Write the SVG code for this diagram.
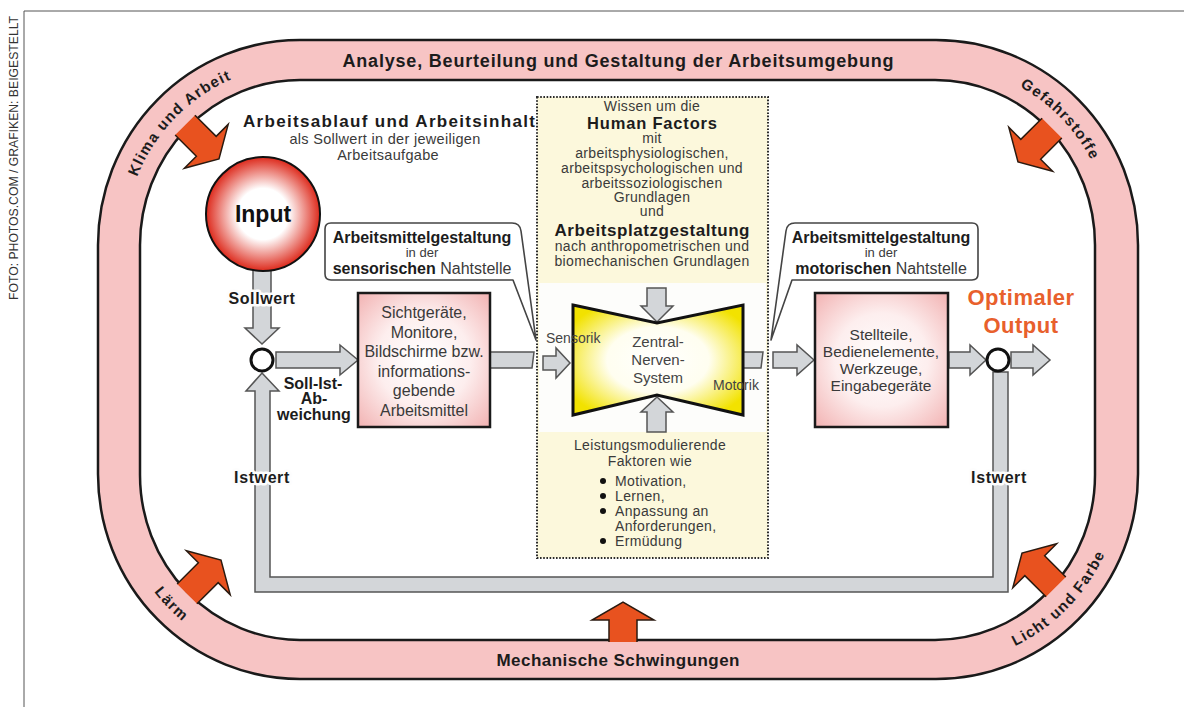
<svg xmlns="http://www.w3.org/2000/svg" xmlns:xlink="http://www.w3.org/1999/xlink" width="1184" height="707" viewBox="0 0 1184 707">
<style>
.r{font-family:"Liberation Sans",Arial,sans-serif;fill:#3a3a3a}
.b{font-family:"Liberation Sans",Arial,sans-serif;font-weight:bold;fill:#1c1c1c}
.c{text-anchor:middle}
.hf{font-size:14px;letter-spacing:0.35px}
.ga{fill:#d3d6d9;stroke:#555;stroke-width:1.5;stroke-linejoin:miter}
.ring{font-family:"Liberation Sans",Arial,sans-serif;font-weight:bold;font-size:15px;letter-spacing:1.3px;fill:#1c1c1c}
.halo{stroke:#fdfdfd;stroke-width:5;paint-order:stroke;stroke-linejoin:round}
.pbox{fill:url(#pk);stroke:#1a1a1a;stroke-width:2.5}
.call{fill:#fff;stroke:#444;stroke-width:1.6;stroke-linejoin:round}
.sum{fill:#fff;stroke:#111;stroke-width:3}
</style>
<defs>
<radialGradient id="pk" cx="0.5" cy="0.5" r="0.7">
<stop offset="0" stop-color="#ffffff"/><stop offset="0.5" stop-color="#fdeeee"/><stop offset="1" stop-color="#f2b3b3"/>
</radialGradient>
<radialGradient id="rd" cx="0.5" cy="0.5" r="0.5">
<stop offset="0" stop-color="#ffffff"/><stop offset="0.45" stop-color="#ffffff"/><stop offset="1" stop-color="#dd2a1c"/>
</radialGradient>
<radialGradient id="yl" cx="0.5" cy="0.5" r="0.6">
<stop offset="0" stop-color="#ffffff"/><stop offset="0.5" stop-color="#fffef0"/><stop offset="1" stop-color="#f2e200"/>
</radialGradient>
<g id="oa">
<path d="M-48,-14 L-18,-14 L-18,-31 L0,0 L-18,31 L-18,14 L-48,14 Z" fill="#e8521f"/>
<path d="M-48,-14 L-18,-14 L-18,-31 L0,0 L-18,31 L-18,14 L-48,14" fill="none" stroke="#2a1a10" stroke-width="1.5"/>
</g>
<g id="ob">
<path d="M-40,-14 L-18,-14 L-18,-31 L0,0 L-18,31 L-18,14 L-40,14 Z" fill="#e8521f"/>
<path d="M-40,-14 L-18,-14 L-18,-31 L0,0 L-18,31 L-18,14 L-40,14" fill="none" stroke="#2a1a10" stroke-width="1.5"/>
</g>
<path id="pTL" d="M124,245 A176,180 0 0 1 300,65"/>
<path id="pTR" d="M936,65 A176,180 0 0 1 1112,245"/>
<path id="pBL" d="M114,474 A186,190 0 0 0 300,664"/>
<path id="pBR" d="M936,664 A186,190 0 0 0 1122,474"/>
</defs>

<rect width="1184" height="707" fill="#ffffff"/>

<g id="frame">
<line x1="24" y1="11" x2="1184" y2="11" stroke="#555" stroke-width="1"/>
<line x1="24" y1="11" x2="24" y2="707" stroke="#555" stroke-width="1"/>
<text class="r" font-size="12.5" transform="translate(18,300) rotate(-90)" textLength="284" lengthAdjust="spacingAndGlyphs" style="fill:#333">FOTO: PHOTOS.COM / GRAFIKEN: BEIGESTELLT</text>
</g>

<g id="ring">
<path fill="#f7c4c4" fill-rule="evenodd" stroke="#1a1a1a" stroke-width="2.5" d="M300,40 H936 A202,205 0 0 1 1138,245 V474 A202,205 0 0 1 936,679 H300 A202,205 0 0 1 98,474 V245 A202,205 0 0 1 300,40 Z M300,80 H935 A160,165 0 0 1 1095,245 V475 A160,165 0 0 1 935,640 H300 A160,165 0 0 1 140,475 V245 A160,165 0 0 1 300,80 Z"/>
<text class="b c" x="618" y="67" font-size="18" textLength="551" lengthAdjust="spacing">Analyse, Beurteilung und Gestaltung der Arbeitsumgebung</text>
<text class="b c" x="618" y="666" font-size="17" textLength="243" lengthAdjust="spacing">Mechanische Schwingungen</text>
<text class="ring"><textPath href="#pTL" startOffset="50%" text-anchor="middle">Klima und Arbeit</textPath></text>
<text class="ring"><textPath href="#pTR" startOffset="50%" text-anchor="middle">Gefahrstoffe</textPath></text>
<text class="ring"><textPath href="#pBL" startOffset="50%" text-anchor="middle">Lärm</textPath></text>
<text class="ring"><textPath href="#pBR" startOffset="50%" text-anchor="middle">Licht und Farbe</textPath></text>
</g>

<g id="influences">
<use href="#oa" transform="translate(219,159) rotate(45)"/>
<use href="#oa" transform="translate(1018,162) rotate(135)"/>
<use href="#oa" transform="translate(221,560) rotate(-45)"/>
<use href="#oa" transform="translate(1022,553) rotate(-135)"/>
<use href="#ob" transform="translate(623,602) rotate(-90)"/>
</g>

<g id="human-factors">
<rect x="537" y="97" width="231" height="461" fill="#fcf8dc" stroke="#2a2a2a" stroke-width="2" stroke-dasharray="1.6 1.6"/>
<rect x="539" y="283" width="227" height="149" fill="#fdfdfb"/>
<text class="r c hf" x="652" y="111">Wissen um die</text>
<text class="b c" font-size="16.5" x="652" y="129" textLength="130" lengthAdjust="spacing">Human Factors</text>
<text class="r c hf" x="652" y="143">mit</text>
<text class="r c hf" x="652" y="158">arbeitsphysiologischen,</text>
<text class="r c hf" x="652" y="173">arbeitspsychologischen und</text>
<text class="r c hf" x="652" y="188">arbeitssoziologischen</text>
<text class="r c hf" x="652" y="202">Grundlagen</text>
<text class="r c hf" x="652" y="216">und</text>
<text class="b c" font-size="17" x="652" y="235.5" textLength="195" lengthAdjust="spacing">Arbeitsplatzgestaltung</text>
<text class="r c hf" x="652" y="251">nach anthropometrischen und</text>
<text class="r c hf" x="652" y="266">biomechanischen Grundlagen</text>
<text class="r c hf" x="650" y="450">Leistungsmodulierende</text>
<text class="r c hf" x="650" y="466">Faktoren wie</text>
<circle cx="603" cy="481" r="3" fill="#111"/>
<circle cx="603" cy="496" r="3" fill="#111"/>
<circle cx="603" cy="511" r="3" fill="#111"/>
<circle cx="603" cy="541" r="3" fill="#111"/>
<text class="r hf" x="615" y="486">Motivation,</text>
<text class="r hf" x="615" y="501">Lernen,</text>
<text class="r hf" x="615" y="516">Anpassung an</text>
<text class="r hf" x="615" y="531">Anforderungen,</text>
<text class="r hf" x="615" y="546">Ermüdung</text>
</g>

<g id="connectors">
<polygon class="ga" points="253,270 271,270 271,328 279,328 262,344 245,328 253,328"/>
<polygon class="ga" points="276,352 340,352 340,345 358,360 340,375 340,368 276,368"/>
<polygon class="ga" points="490,352 534,352 532,368 490,368"/>
<polygon class="ga" points="543,356 556,356 556,348 570,363 556,378 556,370 543,370"/>
<polygon class="ga" points="743,352 763,352 761,368 743,368"/>
<polygon class="ga" points="773,352 797,352 797,345 814,360 797,375 797,368 773,368"/>
<polygon class="ga" points="949,352 970,352 970,345 986,360 970,375 970,368 949,368"/>
<polygon class="ga" points="1011,352 1033,352 1033,345 1050,360 1033,375 1033,368 1011,368"/>
<polygon class="ga" points="647,288 666,288 666,306 673,306 657,322 641,306 647,306"/>
<polygon class="ga" points="647,432 666,432 666,412 673,412 657,397 641,412 647,412"/>
<polygon class="ga" points="262,373 279,391 270,391 270,577 993,577 993,372 1008,372 1008,592 255,592 255,391 246,391"/>
</g>

<g id="zns">
<polygon points="573,305 657,323 743,305 743,415 657,395 573,415" fill="url(#yl)" stroke="#111" stroke-width="3" stroke-linejoin="miter"/>
<text class="r c" font-size="15" x="658" y="347" style="fill:#444">Zentral-</text>
<text class="r c" font-size="15" x="658" y="365" style="fill:#444">Nerven-</text>
<text class="r c" font-size="15" x="658" y="383" style="fill:#444">System</text>
<text class="r" font-size="14" x="546" y="343" style="fill:#444">Sensorik</text>
<text class="r" font-size="14" x="713" y="390" style="fill:#444">Motorik</text>
</g>

<g id="task">
<text class="b" font-size="17" x="243" y="127" textLength="292" lengthAdjust="spacing">Arbeitsablauf und Arbeitsinhalt</text>
<text class="r c" font-size="14.5" x="385" y="144" letter-spacing="0.3">als Sollwert in der jeweiligen</text>
<text class="r c" font-size="14.5" x="388" y="160" letter-spacing="0.3">Arbeitsaufgabe</text>
</g>

<g id="input">
<circle cx="263" cy="214" r="57" fill="url(#rd)" stroke="#111" stroke-width="2"/>
<text class="b c" font-size="23" x="263" y="222" style="fill:#111">Input</text>
</g>

<g id="sum-left">
<circle class="sum" cx="262" cy="360" r="11"/>
</g>
<g id="sum-right">
<circle class="sum" cx="998" cy="360" r="11"/>
</g>

<g id="labels">
<text class="b c halo" font-size="16" x="262" y="304" letter-spacing="0.6">Sollwert</text>
<text class="b c halo" font-size="16" x="262" y="483" letter-spacing="0.6">Istwert</text>
<text class="b c halo" font-size="16" x="999" y="483" letter-spacing="0.6">Istwert</text>
<text class="b c" font-size="16" x="313" y="389">Soll-Ist-</text>
<text class="b c" font-size="16" x="314" y="404">Ab-</text>
<text class="b c" font-size="16" x="314" y="420">weichung</text>
</g>

<g id="output">
<text class="b c" font-size="22" x="1021" y="305" letter-spacing="0.5" style="fill:#e8602c">Optimaler</text>
<text class="b c" font-size="22" x="1021" y="333" letter-spacing="0.5" style="fill:#e8602c">Output</text>
</g>

<g id="sensor-box">
<rect class="pbox" x="358" y="293" width="132" height="134"/>
<text class="r c" font-size="16" x="424" y="318">Sichtgeräte,</text>
<text class="r c" font-size="16" x="424" y="337.5">Monitore,</text>
<text class="r c" font-size="16" x="424" y="357">Bildschirme bzw.</text>
<text class="r c" font-size="16" x="424" y="376.5">informations-</text>
<text class="r c" font-size="16" x="424" y="396">gebende</text>
<text class="r c" font-size="16" x="424" y="415.5">Arbeitsmittel</text>
</g>

<g id="motor-box">
<rect class="pbox" x="815" y="293" width="133" height="134"/>
<text class="r c" font-size="15.5" x="881" y="340">Stellteile,</text>
<text class="r c" font-size="15.5" x="881" y="357">Bedienelemente,</text>
<text class="r c" font-size="15.5" x="881" y="374">Werkzeuge,</text>
<text class="r c" font-size="15.5" x="881" y="391">Eingabegeräte</text>
</g>

<g id="callout-sensor">
<path class="call" d="M331,223 H512 Q520,223 521,231 L536,340 L513,280 H331 Q325,280 325,274 V229 Q325,223 331,223 Z"/>
<text class="b c" font-size="16" x="422" y="243">Arbeitsmittelgestaltung</text>
<text class="r c" font-size="13" x="422" y="257">in der</text>
<text class="c" font-size="16" x="422" y="274"><tspan class="b">sensorischen</tspan><tspan class="r"> Nahtstelle</tspan></text>
</g>

<g id="callout-motor">
<path class="call" d="M972,223 Q978,223 978,229 V274 Q978,280 972,280 H792 L771,340 L786,231 Q787,223 795,223 Z"/>
<text class="b c" font-size="16" x="881" y="243">Arbeitsmittelgestaltung</text>
<text class="r c" font-size="13" x="881" y="257">in der</text>
<text class="c" font-size="16" x="881" y="274"><tspan class="b">motorischen</tspan><tspan class="r"> Nahtstelle</tspan></text>
</g>
</svg>
